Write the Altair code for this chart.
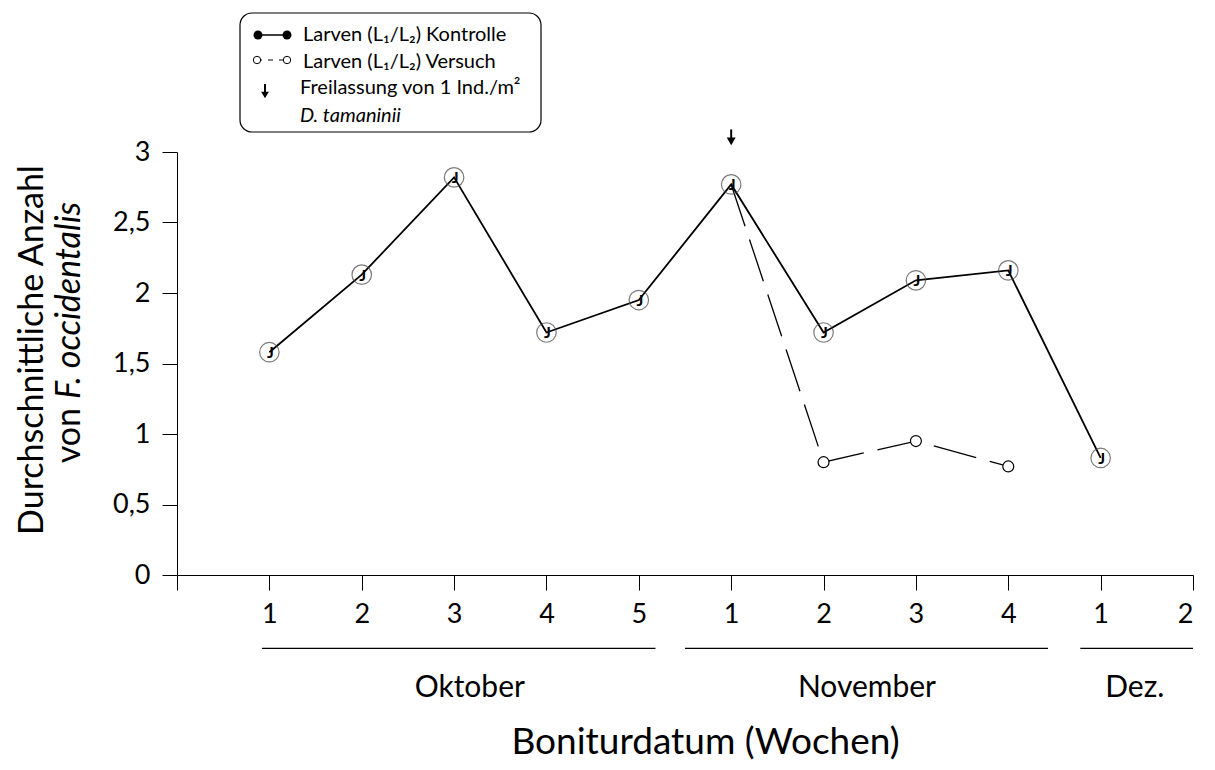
import altair as alt
import pandas as pd

# ---- data ----
week_labels = ["1", "2", "3", "4", "5", "1", "2", "3", "4", "1", "2"]
kontrolle_week = [1, 2, 3, 4, 5, 6, 7, 8, 9, 10]
kontrolle_val = [1.58, 2.13, 2.82, 1.72, 1.95, 2.77, 1.72, 2.09, 2.16, 0.83]
versuch_week = [6, 7, 8, 9]
versuch_val = [2.77, 0.80, 0.95, 0.77]
months = ["Oktober", "November", "Dez."]
month_center = [3.17, 7.47, 10.37]
month_start = [0.92, 5.50, 9.78]
month_end = [5.18, 9.43, 11.0]
release_week = [6]

FONT = "Lato"

kontrolle = pd.DataFrame({"x": kontrolle_week, "y": kontrolle_val})
versuch = pd.DataFrame({"x": versuch_week, "y": versuch_val})
versuch_pts = versuch.iloc[1:]
month_df = pd.DataFrame({"m": months, "x": month_center, "xs": month_start, "xe": month_end})
arrow_df = pd.DataFrame({"x": release_week})

lab_js = "[" + ",".join("'" + s + "'" for s in week_labels) + "]"

xscale = alt.Scale(domain=[0, 11], nice=False, zero=False)
yscale = alt.Scale(domain=[0, 3], nice=False)

X = alt.X("x:Q", scale=xscale, axis=alt.Axis(
    values=list(range(0, 12)),
    labelExpr=f"datum.value == 0 ? '' : {lab_js}[datum.value - 1]",
    tickSize=15, tickColor="black", domainColor="black", grid=False,
    labelFontSize=27, labelFont=FONT, labelColor="black", labelPadding=11,
    title="Boniturdatum (Wochen)", titleFontSize=37, titleFont=FONT,
    titleFontWeight="normal", titleColor="black", titleY=167, titleX=528,
    titleAlign="center", titleBaseline="middle"))
Y = alt.Y("y:Q", scale=yscale, axis=alt.Axis(
    values=[0, 0.5, 1, 1.5, 2, 2.5, 3],
    labelExpr="replace(format(datum.value, '~g'), '.', ',')",
    tickSize=15, tickColor="black", domainColor="black", grid=False,
    labelFontSize=27, labelFont=FONT, labelColor="black", labelPadding=12,
    title=None))

base_k = alt.Chart(kontrolle)
line_k = base_k.mark_line(color="black", strokeWidth=1.8).encode(x=X, y=Y)
pt_k = base_k.mark_point(shape="circle", size=380, filled=False,
                         stroke="#444", strokeWidth=1.2).encode(x="x:Q", y="y:Q")
glyph_k = base_k.mark_text(text="J", fontSize=16, fontWeight="bold", font=FONT,
                           color="black", dx=1, dy=1).encode(x="x:Q", y="y:Q")

base_v = alt.Chart(versuch)
line_v = base_v.mark_line(color="black", strokeWidth=1.3, strokeDash=[44, 14]).encode(
    x="x:Q", y="y:Q")
pt_v = alt.Chart(versuch_pts).mark_point(shape="circle", size=120, filled=True,
                                         fill="white", stroke="black",
                                         strokeWidth=1.2, opacity=1).encode(x="x:Q", y="y:Q")

# release arrow
arrow_stem = alt.Chart(arrow_df).mark_rule(color="black", strokeWidth=2).encode(
    x="x:Q", y=alt.datum(3.16), y2=alt.datum(3.08))
arrow_head = alt.Chart(arrow_df).mark_point(shape="triangle-down", size=80, filled=True,
                                            color="black", opacity=1).encode(
    x="x:Q", y=alt.datum(3.075))

# month labels and underlines
month_rule = alt.Chart(month_df).mark_rule(color="black", strokeWidth=1.3).encode(
    x="xs:Q", x2="xe:Q", y=alt.datum(-0.52))
month_text = alt.Chart(month_df).mark_text(fontSize=30, font=FONT, color="black",
                                           baseline="middle").encode(
    x="x:Q", y=alt.datum(-0.80), text="m:N")

# y title (two lines, partially italic)
one = pd.DataFrame({"a": [0]})
ytitle1 = alt.Chart(one).mark_text(text="Durchschnittliche Anzahl", angle=270, fontSize=34,
                                   font=FONT, color="black", align="center",
                                   baseline="middle").encode(
    x=alt.value(-144), y=alt.value(198))
ytitle2a = alt.Chart(one).mark_text(text="von", angle=270, fontSize=34, font=FONT,
                                    color="black", align="right", baseline="middle").encode(
    x=alt.value(-107), y=alt.value(256))
ytitle2b = alt.Chart(one).mark_text(text="F. occidentalis", angle=270, fontSize=34,
                                    font=FONT, fontStyle="italic", color="black",
                                    align="left", baseline="middle").encode(
    x=alt.value(-107), y=alt.value(247))

# legend box
leg_box = alt.Chart(one).mark_rect(fill="white", stroke="black", strokeWidth=1.2,
                                   cornerRadius=12).encode(
    x=alt.value(63), x2=alt.value(364), y=alt.value(-139), y2=alt.value(-20))
leg_l1 = alt.Chart(one).mark_rule(color="black", strokeWidth=1.5).encode(
    x=alt.value(81), x2=alt.value(110), y=alt.value(-117))
leg_p1 = alt.Chart(pd.DataFrame({"px": [81, 110]})).mark_point(
    shape="circle", size=80, filled=True, color="black", opacity=1).encode(
    x=alt.X("px:Q", scale=None), y=alt.value(-117))
leg_l2 = alt.Chart(one).mark_rule(color="black", strokeWidth=1, strokeDash=[5, 6]).encode(
    x=alt.value(80), x2=alt.value(110), y=alt.value(-92))
leg_p2 = alt.Chart(pd.DataFrame({"px": [80, 110]})).mark_point(
    shape="circle", size=55, filled=True, fill="white", stroke="black",
    strokeWidth=1, opacity=1).encode(x=alt.X("px:Q", scale=None), y=alt.value(-92))
leg_as = alt.Chart(one).mark_rule(color="black", strokeWidth=2).encode(
    x=alt.value(88), y=alt.value(-68), y2=alt.value(-59))
leg_ah = alt.Chart(one).mark_point(shape="triangle-down", size=60, filled=True,
                                   color="black", opacity=1).encode(
    x=alt.value(88), y=alt.value(-57))
leg_texts = pd.DataFrame({
    "t": ["Larven (L\u2081/L\u2082) Kontrolle", "Larven (L\u2081/L\u2082) Versuch",
          "Freilassung von 1 Ind./m\u00b2"],
    "px": [126, 126, 123], "py": [-117, -90, -64]})
leg_t = alt.Chart(leg_texts).mark_text(fontSize=20, font=FONT, color="black",
                                       align="left", baseline="middle").encode(
    x=alt.X("px:Q", scale=None), y=alt.Y("py:Q", scale=None), text="t:N")
leg_t4 = alt.Chart(one).mark_text(text="D. tamaninii", fontSize=20, font=FONT,
                                  fontStyle="italic", color="black", align="left",
                                  baseline="middle").encode(
    x=alt.value(123), y=alt.value(-36))

chart = alt.layer(
    line_k, line_v, pt_k, glyph_k, pt_v, arrow_stem, arrow_head,
    month_rule, month_text, ytitle1, ytitle2a, ytitle2b,
    leg_box, leg_l1, leg_p1, leg_l2, leg_p2, leg_as, leg_ah, leg_t, leg_t4
).properties(
    width=1016, height=423,
    padding={"left": 169, "top": 144, "right": 12, "bottom": 192},
    autosize=alt.AutoSizeParams(type="none"),
).configure_view(stroke=None)

chart.save("out.html", embed_options={"renderer": "svg", "actions": False})
